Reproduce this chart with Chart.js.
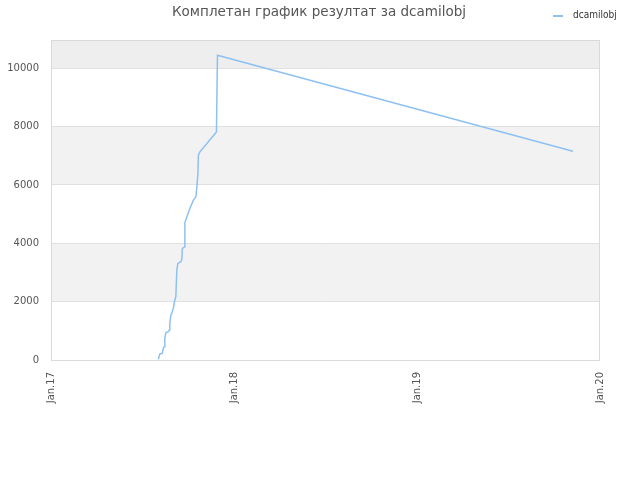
<!DOCTYPE html>
<html>
<head>
<meta charset="utf-8">
<script src="https://cdn.jsdelivr.net/npm/chart.js@4/dist/chart.umd.min.js"></script>
<style>
html,body{margin:0;padding:0;background:#fff;}
#wrap{width:640px;height:480px;position:relative;}
</style>
</head>
<body>
<div id="wrap"><canvas id="c" width="640" height="480"></canvas></div>
<script>
const titleText = 'Комплетан график резултат за dcamilobj';
const seriesName = 'dcamilobj';
// days since 1 Jan 2017
const days = [214,217,222,224,226,227,229,234,236,237,239,241,244,247,249,251,253,259,261,262,267,267,271,277,284,289,291,293,294,297,330,332,1041];
const values = [20,205,230,410,455,743,935,970,1028,1257,1541,1600,1770,2055,2168,3083,3311,3368,3449,3826,3880,4703,4908,5196,5480,5593,5935,6394,7021,7134,7819,10446,7158];
const xTickDays = [0,365,730,1095];
const xTickLabels = ['Jan.17','Jan.18','Jan.19','Jan.20'];

const points = days.map((d,i)=>({x:d,y:values[i]}));
const yMax = Math.max(...values)*1.05;
const lineColor = '#8ec0f2';

const decor = {
  id:'decor',
  beforeDraw(chart){
    const {ctx, chartArea:a, scales:{y}} = chart;
    ctx.save();
    const ticks = y.ticks.map(t=>t.value);
    const edges = ticks.concat([y.max]);
    for(let i=0;i<edges.length-1;i++){
      const top = y.getPixelForValue(edges[i+1]);
      const bot = y.getPixelForValue(edges[i]);
      let col = null;
      if(i===edges.length-2 && y.max>ticks[ticks.length-1]) col='#eeeeee';
      else if(i%2===1) col='#f2f2f2';
      if(col){ctx.fillStyle=col;ctx.fillRect(a.left,top,a.right-a.left,bot-top);}
    }
    ctx.restore();
  },
  beforeDatasetsDraw(chart){
    const {ctx, chartArea:a} = chart;
    ctx.save();
    ctx.strokeStyle='#dadada';
    ctx.lineWidth=1;
    ctx.strokeRect(a.left+0.5,a.top+0.5,a.right-a.left-1,a.bottom-a.top);
    ctx.restore();
  },
  afterDraw(chart){
    const {ctx} = chart;
    ctx.save();
    ctx.fillStyle='#555';
    ctx.font='13.5px "DejaVu Sans"';
    ctx.textAlign='center';
    ctx.textBaseline='middle';
    ctx.fillText(titleText,319,12);
    ctx.strokeStyle=lineColor;
    ctx.lineWidth=2;
    ctx.beginPath();ctx.moveTo(553,16);ctx.lineTo(563,16);ctx.stroke();
    ctx.font='10px "DejaVu Sans Condensed", "DejaVu Sans"';
    ctx.textAlign='left';
    ctx.fillStyle='#333';
    ctx.fillText(seriesName,573,15);
    ctx.restore();
  }
};

new Chart(document.getElementById('c'),{
  type:'line',
  data:{datasets:[{label:seriesName,data:points,borderColor:lineColor,backgroundColor:lineColor,borderWidth:1.5,pointRadius:0,tension:0,fill:false}]},
  options:{
    responsive:false,
    animation:false,
    devicePixelRatio:1,
    layout:{padding:{top:40,right:40,left:0,bottom:0}},
    plugins:{legend:{display:false},title:{display:false},tooltip:{enabled:false}},
    scales:{
      x:{type:'linear',min:0,max:1095,
        afterBuildTicks(s){s.ticks=xTickDays.map(v=>({value:v}));},
        afterFit(s){s.height=120;},
        grid:{display:false,drawTicks:false},
        border:{display:false},
        ticks:{minRotation:90,maxRotation:90,padding:12,color:'#555',font:{family:'DejaVu Sans',size:10},
          callback(v){const i=xTickDays.indexOf(v);return i>=0?xTickLabels[i]:'';}}
      },
      y:{type:'linear',min:0,max:yMax,
        afterBuildTicks(s){const t=[];for(let v=0;v<=s.max;v+=2000)t.push({value:v});s.ticks=t;},
        afterFit(s){s.width=51;},
        grid:{color:'#e0e0e0',drawTicks:false},
        border:{display:false},
        ticks:{padding:12,color:'#555',font:{family:'DejaVu Sans',size:10},callback(v){return String(v);}}
      }
    }
  },
  plugins:[decor]
});
</script>
</body>
</html>
